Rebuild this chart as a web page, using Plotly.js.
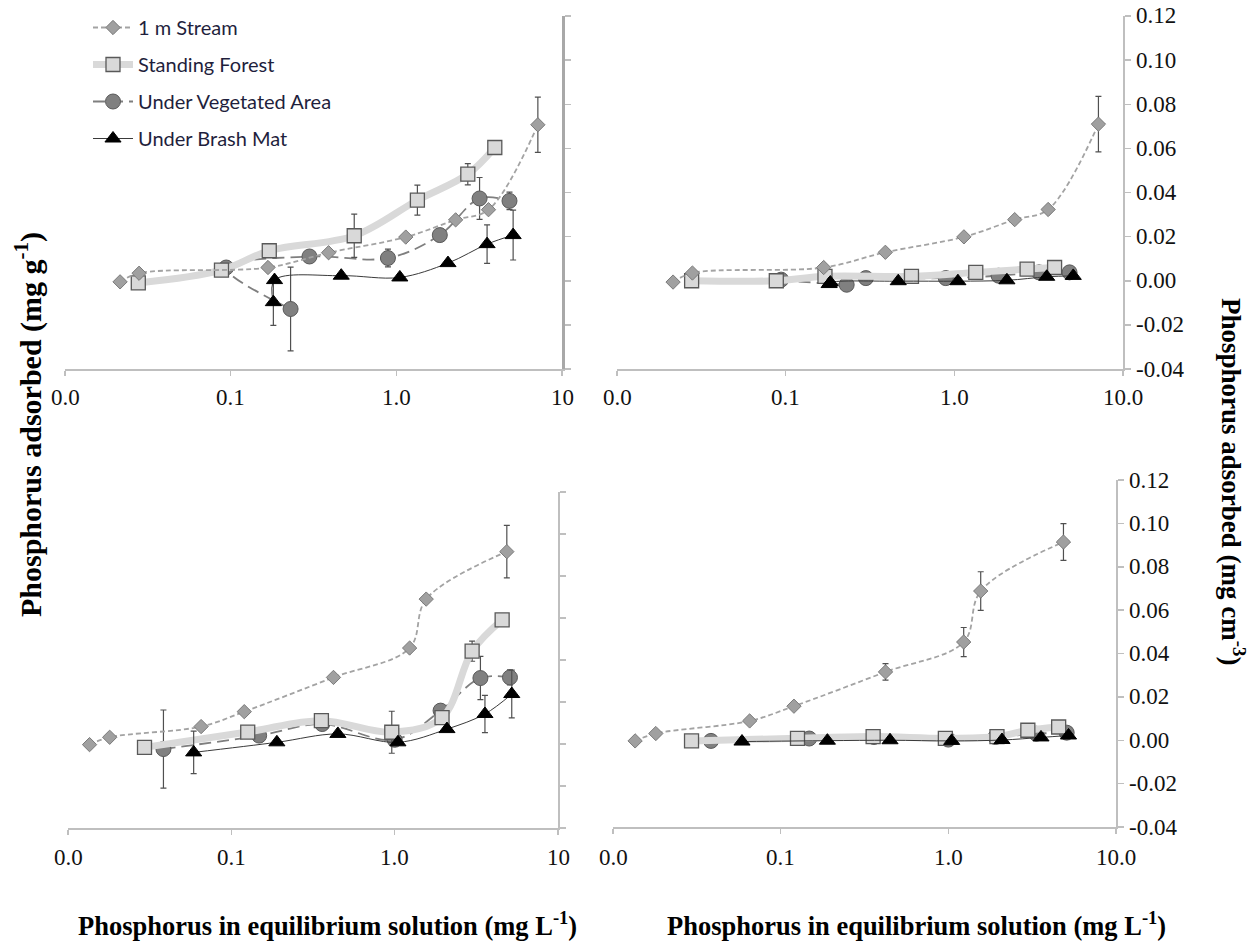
<!DOCTYPE html>
<html>
<head>
<meta charset="utf-8">
<script src="https://cdn.plot.ly/plotly-3.0.1.min.js"></script>
<style>html,body{margin:0;padding:0;background:#fff;}#chart{width:1258px;height:946px;}</style>
</head>
<body>
<div id="chart"></div>
<script>
// ---------- data ----------
const seriesNames = ["1 m Stream", "Standing Forest", "Under Vegetated Area", "Under Brash Mat"];
const xTickVals = [0.01, 0.1, 1, 10];
const xTickTextLeft = ["0.0", "0.1", "1.0", "10"];
const xTickTextRight = ["0.0", "0.1", "1.0", "10.0"];
const yTickVals = [-0.04, -0.02, 0, 0.02, 0.04, 0.06, 0.08, 0.10, 0.12];
const yTickText = ["-0.04", "-0.02", "0.00", "0.02", "0.04", "0.06", "0.08", "0.10", "0.12"];

// top row
const xStreamTop = [0.0215, 0.028, 0.168, 0.39, 1.14, 2.28, 3.6, 7.15];
const yStreamTopG = [-0.0005, 0.0034, 0.006, 0.0127, 0.0198, 0.0276, 0.0322, 0.0707];
const eStreamTopG = [null, null, null, null, null, null, null, 0.0125];
const yStreamTopCm = [-0.0006, 0.0035, 0.006, 0.0129, 0.0199, 0.0277, 0.0323, 0.071];
const eStreamTopCm = [null, null, null, null, null, null, null, 0.0126];

const xForestTop = [0.0277, 0.088, 0.171, 0.557, 1.34, 2.7, 3.93];
const yForestTopG = [-0.001, 0.0048, 0.0136, 0.0204, 0.0365, 0.0483, 0.0604];
const eForestTopG = [null, null, null, 0.0098, 0.0068, 0.0048, null];
const yForestTopCm = [0.0, 0.0, 0.002, 0.002, 0.0038, 0.0053, 0.006];

const xVegTop = [0.23, 0.094, 0.299, 0.89, 1.83, 3.18, 4.82];
const yVegTopG = [-0.0128, 0.006, 0.011, 0.0103, 0.0207, 0.0373, 0.0362];
const eVegTopG = [0.019, null, null, 0.004, null, 0.0095, 0.004];
const yVegTopCm = [-0.0018, 0.0005, 0.0012, 0.0012, 0.0023, 0.0038, 0.0038];

const xBrashTop = [0.181, 0.184, 0.465, 1.05, 2.05, 3.53, 5.07];
const yBrashTopG = [-0.0097, 0.0003, 0.0023, 0.0015, 0.008, 0.0166, 0.0207];
const eBrashTopG = [0.0105, null, null, null, null, 0.0087, 0.0113];
const yBrashTopCm = [-0.0015, -0.0008, -0.0002, -0.0002, 0.0002, 0.0018, 0.0022];

// bottom row
const xStreamBot = [0.01355, 0.018, 0.0653, 0.12, 0.422, 1.235, 1.56, 4.86];
const yStreamBotG = [-0.0003, 0.0032, 0.0083, 0.0154, 0.0317, 0.0457, 0.069, 0.0916];
const eStreamBotG = [null, null, null, null, null, null, null, 0.0125];
const yStreamBotCm = [-0.0003, 0.0031, 0.0089, 0.0157, 0.0315, 0.0453, 0.0688, 0.0914];
const eStreamBotCm = [null, null, null, null, 0.0038, 0.0067, 0.0089, 0.0085];

const xForestBot = [0.0294, 0.126, 0.356, 0.96, 1.95, 2.98, 4.55];
const yForestBotG = [-0.0016, 0.0057, 0.0111, 0.0056, 0.0126, 0.0442, 0.0591];
const eForestBotG = [null, null, null, 0.01, null, 0.0048, null];
const yForestBotCm = [-0.0003, 0.0009, 0.0017, 0.0009, 0.0017, 0.0046, 0.0061];

const xVegBot = [0.0384, 0.148, 0.36, 1.0, 1.91, 3.35, 5.08];
const yVegBotG = [-0.0024, 0.004, 0.0095, 0.002, 0.0159, 0.0314, 0.0317];
const eVegBotG = [0.0186, null, null, null, 0.002, 0.0103, 0.0036];
const yVegBotCm = [-0.0003, 0.0008, 0.0015, 0.0003, 0.0015, 0.003, 0.0035];

const xBrashBot = [0.0588, 0.19, 0.449, 1.047, 2.09, 3.57, 5.21];
const yBrashBotG = [-0.004, 0.0008, 0.0048, 0.0008, 0.0071, 0.0143, 0.0238];
const eBrashBotG = [0.0101, null, null, null, null, 0.0089, 0.0114];
const yBrashBotCm = [-0.0006, -0.0002, 0.0, -0.0003, 0.0001, 0.0013, 0.0022];

// ---------- styles ----------
const styles = {
  stream: {name: seriesNames[0], rank: 1,
    line: {color: "#a3a3a3", width: 1.8, dash: "5px,3px", shape: "spline"},
    marker: {symbol: "diamond", size: 11, color: "#a0a0a0", line: {color: "#7a7a7a", width: 1}}},
  forest: {name: seriesNames[1], rank: 2,
    line: {color: "#d9d9d9", width: 7, shape: "spline"},
    marker: {symbol: "square", size: 14, color: "#d9d9d9", line: {color: "#595959", width: 1.3}}},
  veg: {name: seriesNames[2], rank: 3,
    line: {color: "#7f7f7f", width: 1.8, dash: "12px,6px", shape: "spline"},
    marker: {symbol: "circle", size: 15, color: "#808080", line: {color: "#595959", width: 1}}},
  brash: {name: seriesNames[3], rank: 4,
    line: {color: "#3a3a3a", width: 1, shape: "spline"},
    marker: {symbol: "triangle-up", size: 14, color: "#000000", line: {color: "#000000", width: 1}}}
};

function mk(key, x, y, err, xa, ya, showLegend) {
  const s = styles[key];
  const t = {
    type: "scatter", mode: "lines+markers", x: x, y: y,
    xaxis: xa, yaxis: ya, name: s.name, legendgroup: key, legendrank: s.rank,
    showlegend: !!showLegend, line: s.line, marker: s.marker, hoverinfo: "skip"
  };
  if (err) {
    t.error_y = {type: "data", array: err, visible: true, color: "#505050", thickness: 1.2, width: 3};
  }
  return t;
}

const traces = [
  mk("veg", xVegTop, yVegTopG, eVegTopG, "x", "y", true),
  mk("forest", xForestTop, yForestTopG, eForestTopG, "x", "y", true),
  mk("brash", xBrashTop, yBrashTopG, eBrashTopG, "x", "y", true),
  mk("stream", xStreamTop, yStreamTopG, eStreamTopG, "x", "y", true),
  mk("veg", xVegTop, yVegTopCm, null, "x2", "y2"),
  mk("forest", xForestTop, yForestTopCm, null, "x2", "y2"),
  mk("brash", xBrashTop, yBrashTopCm, null, "x2", "y2"),
  mk("stream", xStreamTop, yStreamTopCm, eStreamTopCm, "x2", "y2"),
  mk("veg", xVegBot, yVegBotG, eVegBotG, "x3", "y3"),
  mk("forest", xForestBot, yForestBotG, eForestBotG, "x3", "y3"),
  mk("brash", xBrashBot, yBrashBotG, eBrashBotG, "x3", "y3"),
  mk("stream", xStreamBot, yStreamBotG, eStreamBotG, "x3", "y3"),
  mk("veg", xVegBot, yVegBotCm, null, "x4", "y4"),
  mk("forest", xForestBot, yForestBotCm, null, "x4", "y4"),
  mk("brash", xBrashBot, yBrashBotCm, null, "x4", "y4"),
  mk("stream", xStreamBot, yStreamBotCm, eStreamBotCm, "x4", "y4")
];

const W = 1258, H = 946;
const px = v => v / W;
const py = v => 1 - v / H;
const SERIF = "Liberation Serif";
const labFont = () => ({family: SERIF, size: 23, color: "#111111"});

function xAxis(l, r, anchor) {
  return {domain: [px(l), px(r)], anchor: anchor, type: "log", range: [-2, 1],
    tickmode: "array", tickvals: xTickVals, showticklabels: false,
    showline: true, linecolor: "#bfbfbf", linewidth: 1.5, ticks: "outside", ticklen: 5,
    tickcolor: "#bfbfbf", tickwidth: 1.5, showgrid: false, zeroline: false, fixedrange: true};
}
function yAxis(top, bottom, anchor, lw, lc) {
  return {domain: [py(bottom), py(top)], anchor: anchor, side: "right", range: [-0.04, 0.12],
    tickmode: "array", tickvals: yTickVals, showticklabels: false,
    showline: true, linecolor: lc || "#bfbfbf", linewidth: lw || 1.5, ticks: "outside", ticklen: 6,
    tickcolor: "#bfbfbf", tickwidth: 1.5, showgrid: false, zeroline: false, fixedrange: true};
}

const annotations = [];
// x tick labels (placed on each panel's log x scale)
function xLabels(xref, labelsTxt, labelY) {
  xTickVals.forEach((v, i) => annotations.push({
    text: labelsTxt[i], xref: xref, yref: "paper", x: Math.log10(v), y: py(labelY),
    showarrow: false, font: labFont(), xanchor: "center", yanchor: "middle"}));
}
// y tick labels (placed on each right panel's y scale)
function yLabels(yref, axisPx) {
  yTickVals.forEach((v, i) => annotations.push({
    text: yTickText[i], xref: "paper", yref: yref, x: px(axisPx + 11), y: v,
    showarrow: false, font: labFont(), xanchor: "left", yanchor: "middle"}));
}
xLabels("x", xTickTextLeft, 397);
xLabels("x2", xTickTextRight, 397);
xLabels("x3", xTickTextLeft, 857);
xLabels("x4", xTickTextRight, 857);
yLabels("y2", 1123);
yLabels("y4", 1116);

annotations.push(
  {text: "<b>Phosphorus adsorbed (mg g<sup>-1</sup>)</b>", xref: "paper", yref: "paper",
   x: px(28), y: py(425), textangle: -90, showarrow: false, font: {family: SERIF, size: 30, color: "#000"},
   xanchor: "center", yanchor: "middle"},
  {text: "<b>Phosphorus adsorbed (mg cm<sup>-3</sup>)</b>", xref: "paper", yref: "paper",
   x: px(1233), y: py(482), textangle: 90, showarrow: false, font: {family: SERIF, size: 27, color: "#000"},
   xanchor: "center", yanchor: "middle"},
  {text: "<b>Phosphorus in equilibrium solution (mg L<sup>-1</sup>)</b>", xref: "paper", yref: "paper",
   x: px(327), y: py(924), showarrow: false, font: {family: SERIF, size: 26.5, color: "#000"}, xanchor: "center", yanchor: "middle"},
  {text: "<b>Phosphorus in equilibrium solution (mg L<sup>-1</sup>)</b>", xref: "paper", yref: "paper",
   x: px(916), y: py(924), showarrow: false, font: {family: SERIF, size: 26.5, color: "#000"}, xanchor: "center", yanchor: "middle"}
);

const layout = {
  width: W, height: H,
  margin: {l: 0, r: 0, t: 0, b: 0},
  paper_bgcolor: "#fff", plot_bgcolor: "#fff",
  showlegend: true,
  legend: {x: px(88), y: py(8), xanchor: "left", yanchor: "top", bgcolor: "rgba(0,0,0,0)",
    font: {family: "Lato", size: 20, color: "#1f1f3d"},
    itemwidth: 40, tracegroupgap: 8, traceorder: "grouped"},
  xaxis: xAxis(65, 562, "y"),
  yaxis: yAxis(16, 369, "x", 3, "#a8a8a8"),
  xaxis2: xAxis(617, 1123, "y2"),
  yaxis2: yAxis(16, 369, "x2"),
  xaxis3: xAxis(68, 558, "y3"),
  yaxis3: yAxis(492, 828, "x3"),
  xaxis4: xAxis(613, 1116, "y4"),
  yaxis4: yAxis(480, 827, "x4"),
  annotations: annotations
};

Plotly.newPlot("chart", traces, layout, {displayModeBar: false, staticPlot: true});
</script>
</body>
</html>
